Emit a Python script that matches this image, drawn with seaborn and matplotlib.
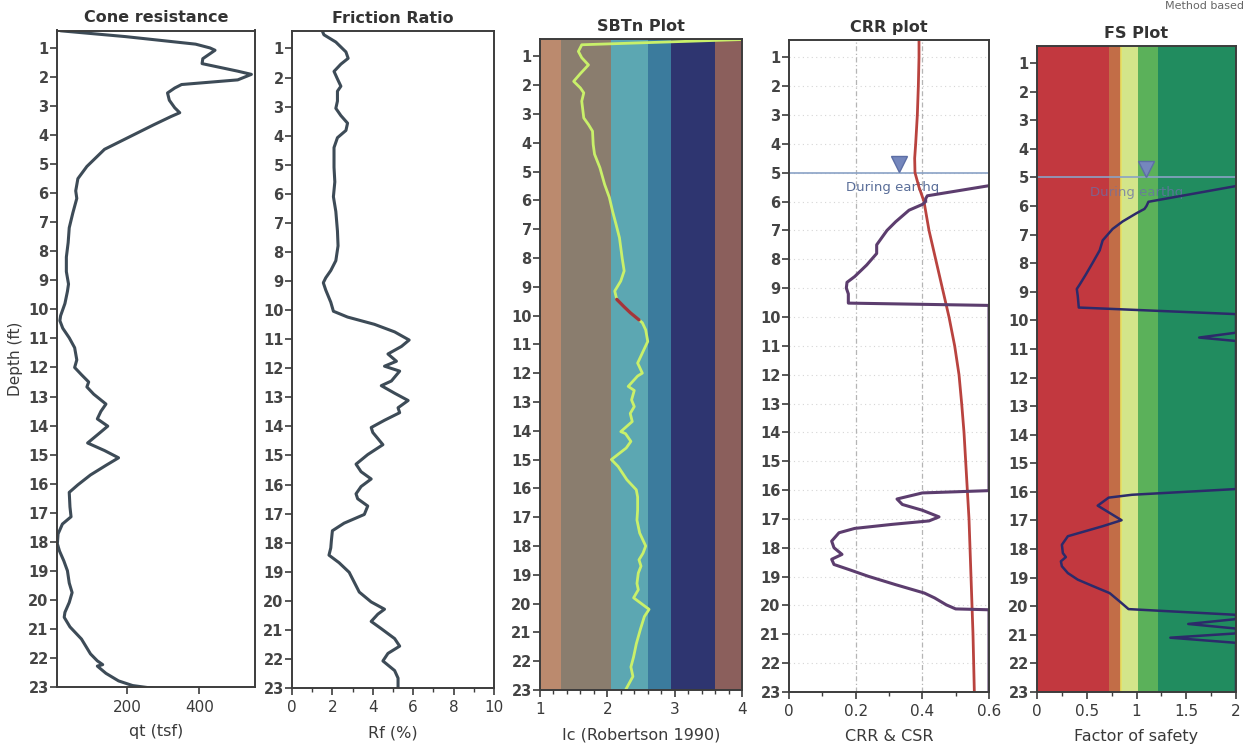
import numpy as np
import pandas as pd
import matplotlib
matplotlib.use("Agg")
import matplotlib.pyplot as plt
import seaborn as sns
from matplotlib.ticker import MultipleLocator, FixedLocator

sns.set_theme(style="white")
plt.rcParams['font.family'] = ['DejaVu Sans']

# ---------------- data ----------------
depth_ticks = list(range(1, 24))

qt_depth = [0.41, 0.61, 0.87, 1.0, 1.08, 1.37, 1.54, 1.8, 1.91, 2.1, 2.26, 2.38, 2.55, 2.8, 3.06,
            3.23, 3.36, 3.65, 4.07, 4.49, 5.08, 5.5, 5.92, 6.18, 6.68, 7.19, 7.7, 8.2, 8.7, 9.13,
            9.38, 9.8, 10.22, 10.39, 10.65, 10.98, 11.32, 11.74, 12.0, 12.25, 12.5, 12.67, 12.92,
            13.26, 13.51, 13.77, 14.02, 14.27, 14.6, 14.86, 15.11, 15.37, 15.7, 16.04, 16.3, 16.8,
            17.14, 17.39, 17.73, 18.07, 18.32, 18.66, 19.0, 19.42, 19.75, 20.09, 20.43, 20.6, 20.93,
            21.35, 21.86, 22.1, 22.23, 22.28, 22.53, 22.79, 22.95, 23.05]
qt_value = [15, 195, 390, 430, 444, 410, 408, 507, 545, 507, 351, 332, 312, 317, 332,
            346, 322, 273, 205, 137, 88, 63, 57, 60, 49, 39, 36, 31, 31, 37,
            34, 27, 15, 13, 21, 39, 54, 60, 54, 73, 93, 88, 107,
            141, 127, 117, 146, 122, 90, 137, 176, 141, 98, 63, 39, 41,
            44, 20, 8, 6, 12, 24, 34, 39, 47, 39, 27, 25, 41,
            73, 98, 117, 132, 117, 141, 176, 215, 275]

rf_depth = [0.4, 0.53, 0.78, 1.12, 1.34, 1.54, 1.79, 2.05, 2.3, 2.47, 2.81, 3.06, 3.31, 3.57, 3.82,
            4.07, 4.41, 5.09, 5.59, 6.1, 6.61, 7.28, 7.79, 8.3, 8.64, 8.89, 9.06, 9.31, 9.73, 10.04,
            10.24, 10.49, 10.75, 11.03, 11.25, 11.51, 11.76, 11.93, 12.1, 12.44, 12.6, 12.86, 13.11,
            13.36, 13.53, 13.79, 14.04, 14.21, 14.63, 14.97, 15.3, 15.56, 15.81, 16.07, 16.32, 16.49,
            16.74, 17.03, 17.33, 17.59, 17.93, 18.18, 18.43, 18.69, 19.02, 19.36, 19.7, 20.04, 20.29,
            20.46, 20.71, 20.96, 21.3, 21.56, 21.81, 22.07, 22.4, 22.66, 23.0]
rf_value = [1.5, 1.58, 2.17, 2.67, 2.78, 2.42, 2.08, 2.25, 2.42, 2.25, 2.25, 2.17, 2.42, 2.75, 2.67,
            2.25, 2.08, 2.08, 2.12, 2.05, 2.17, 2.25, 2.28, 2.17, 1.92, 1.67, 1.55, 1.67, 1.92, 2.05,
            2.75, 4.08, 5.08, 5.8, 5.42, 4.75, 5.17, 4.58, 5.33, 4.92, 4.42, 5.08, 5.75,
            5.25, 5.33, 4.58, 3.92, 4.0, 4.5, 3.75, 3.17, 3.42, 3.92, 3.42, 3.17, 3.25,
            3.75, 3.58, 2.58, 2.0, 1.95, 1.92, 1.83, 2.33, 2.83, 3.08, 3.33, 3.92, 4.58,
            4.25, 3.92, 4.42, 5.08, 5.33, 4.75, 4.5, 5.08, 5.25, 5.25]

sbt_bounds = [1.0, 1.31, 2.05, 2.6, 2.95, 3.6, 4.0]
sbt_colors = ['#bb8a6e', '#8a7d6e', '#5ca7b2', '#3b7b9d', '#2e3570', '#8b5f5c']

ic_depth = [0.42, 0.6, 0.83, 1.05, 1.3, 1.6, 1.87, 2.1, 2.27, 2.56, 3.14, 3.37, 3.6, 4.06, 4.4,
            4.87, 5.45, 5.9, 6.4, 6.84, 7.3, 8.0, 8.45, 8.8, 9.15, 9.44, 9.7, 9.9, 10.15,
            10.25, 10.5, 10.9, 11.3, 11.65, 12.0, 12.1, 12.46, 12.6, 12.93, 13.16, 13.4, 13.68,
            14.03, 14.1, 14.37, 14.6, 15.0, 15.24, 15.7, 16.05, 16.3, 16.75, 17.1, 17.55, 18.0,
            18.25, 18.48, 18.7, 18.94, 19.3, 19.52, 19.8, 20.2, 20.45, 20.9, 21.4, 21.85, 22.2,
            22.53, 23.0]
ic_value = [3.98, 1.62, 1.57, 1.62, 1.72, 1.6, 1.50, 1.6, 1.65, 1.62, 1.65, 1.72, 1.78, 1.79, 1.81,
            1.89, 1.96, 2.03, 2.08, 2.13, 2.18, 2.22, 2.25, 2.2, 2.11, 2.14, 2.25, 2.34, 2.47,
            2.52, 2.57, 2.60, 2.52, 2.45, 2.52, 2.45, 2.31, 2.40, 2.36, 2.40, 2.34, 2.37,
            2.20, 2.27, 2.35, 2.28, 2.06, 2.16, 2.29, 2.43, 2.45, 2.45, 2.44, 2.48, 2.57,
            2.53, 2.47, 2.50, 2.46, 2.44, 2.46, 2.39, 2.62, 2.55, 2.49, 2.43, 2.39, 2.35,
            2.38, 2.27]
ic_red_depth = [9.44, 9.7, 9.9, 10.15]
ic_red_value = [2.14, 2.25, 2.34, 2.47]

csr_depth = [0.4, 1, 2, 3, 4, 4.5, 5, 5.5, 6, 7, 8, 9, 10, 11, 12, 13, 14, 15, 16, 17, 18, 19,
             20, 21, 22, 23]
csr_value = [0.39, 0.39, 0.388, 0.385, 0.38, 0.377, 0.378, 0.39, 0.405, 0.42, 0.44, 0.46, 0.48,
             0.497, 0.51, 0.518, 0.525, 0.53, 0.535, 0.54, 0.543, 0.546, 0.549, 0.552, 0.554, 0.556]

crr_depth = [5.45, 5.8, 5.9, 6.0, 6.1, 6.3, 6.7, 7.0, 7.5, 7.8, 8.2, 8.6, 8.8, 9.0, 9.2, 9.52,
             9.6, 16.02, 16.1, 16.31, 16.5, 16.7, 16.93, 17.07, 17.19, 17.33, 17.48, 17.77, 18.0,
             18.23, 18.4, 18.58, 18.76, 18.99, 19.28, 19.57, 19.74, 19.98, 20.12, 20.15, 23.0]
crr_value = [0.6, 0.415, 0.41, 0.41, 0.40, 0.36, 0.32, 0.294, 0.263, 0.263, 0.233, 0.197, 0.174,
             0.172, 0.178, 0.178, 0.6, 0.6, 0.40, 0.324, 0.34, 0.40, 0.45, 0.42, 0.309, 0.197,
             0.15, 0.128, 0.135, 0.159, 0.128, 0.135, 0.181, 0.238, 0.32, 0.406, 0.437, 0.472,
             0.50, 0.6, 0.6]

fs_bounds = [0.0, 0.72, 0.84, 1.02, 1.22, 2.0]
fs_colors = ['#c2383f', '#c26d47', '#d3e58a', '#5bb15a', '#218c5f']

fs_depth = [5.3, 5.85, 6.0, 6.1, 6.25, 6.54, 6.8, 7.2, 7.55, 7.98, 8.4, 8.74, 8.9, 9.16, 9.55,
            9.78, 10.43, 10.6, 10.72, 15.9, 16.1, 16.2, 16.48, 16.99, 17.2, 17.38, 17.55, 17.85,
            18.14, 18.28, 18.43, 18.6, 18.84, 19.07, 19.3, 19.54, 19.83, 20.1, 20.3, 20.45,
            20.62, 20.78, 20.95, 21.1, 21.28, 23.0]
fs_value = [2.0, 1.12, 1.1, 1.08, 1.0, 0.86, 0.76, 0.66, 0.63, 0.56, 0.49, 0.43, 0.40, 0.41, 0.42,
            2.0, 2.0, 1.63, 2.0, 2.0, 0.955, 0.72, 0.61, 0.85, 0.66, 0.48, 0.31, 0.25,
            0.26, 0.29, 0.24, 0.25, 0.31, 0.41, 0.565, 0.73, 0.83, 0.92, 2.0, 2.0,
            1.52, 2.0, 2.0, 1.34, 2.0, 2.0]

water_depth = 5.0

# ---------------- layout ----------------
W, H = 1247, 756
fig = plt.figure(figsize=(W / 100, H / 100), dpi=100)
fig.patch.set_facecolor('white')


def add_ax(l, r, t, b):
    return fig.add_axes([l / W, 1 - b / H, (r - l) / W, (b - t) / H])


SPINE = '#3c3c3c'
TXT = '#3a3a3a'


def style(ax, title, xlabel, xlim, xmajor, xminor=None, xticklabels=None):
    ax.set_ylim(23, 0.4)
    ax.set_xlim(*xlim)
    ax.yaxis.set_major_locator(FixedLocator(depth_ticks))
    ax.set_yticklabels([str(d) for d in depth_ticks], fontsize=10.5, fontweight='bold', color='#444')
    ax.xaxis.set_major_locator(FixedLocator(xmajor))
    if xticklabels is None:
        xticklabels = [f"{v:g}" for v in xmajor]
    ax.set_xticklabels(xticklabels, fontsize=11, color=TXT)
    if xminor is not None:
        ax.xaxis.set_minor_locator(FixedLocator(xminor))
    ax.tick_params(axis='y', which='major', direction='out', length=5, width=1.2,
                   color=SPINE, pad=1, left=True)
    ax.tick_params(axis='x', which='major', direction='out', length=5, width=1.2,
                   color=SPINE, pad=4, bottom=True)
    ax.tick_params(axis='x', which='minor', direction='out', length=3, width=1.0,
                   color=SPINE, bottom=True)
    for s in ax.spines.values():
        s.set_color(SPINE)
        s.set_linewidth(1.4)
        s.set_visible(True)
    ax.set_title(title, fontsize=11.5, fontweight='bold', color='#333', pad=6)
    ax.set_xlabel(xlabel, fontsize=11.5, color=TXT, labelpad=7)
    ax.set_ylabel('')


# Panel 1: Cone resistance
ax1 = add_ax(57, 255, 30.5, 687)
sns.lineplot(x=qt_value, y=qt_depth, sort=False, estimator=None, ax=ax1,
             color='#3d4b57', linewidth=2.2)
style(ax1, 'Cone resistance', 'qt (tsf)', (5, 555), [200, 400])
ax1.set_ylabel('Depth (ft)', fontsize=11, color=TXT, labelpad=4)

# Panel 2: Friction ratio
ax2 = add_ax(292, 494, 31, 688)
sns.lineplot(x=rf_value, y=rf_depth, sort=False, estimator=None, ax=ax2,
             color='#3d4b57', linewidth=2.2)
style(ax2, 'Friction Ratio', 'Rf (%)', (0, 10), [0, 2, 4, 6, 8, 10],
      xminor=[1, 3, 5, 7, 9])

# Panel 3: SBTn
ax3 = add_ax(540, 742, 39, 690)
for lo, hi, c in zip(sbt_bounds[:-1], sbt_bounds[1:], sbt_colors):
    ax3.axvspan(lo, hi, color=c, lw=0, zorder=0)
sns.lineplot(x=ic_value, y=ic_depth, sort=False, estimator=None, ax=ax3,
             color='#c9f06a', linewidth=2.0)
sns.lineplot(x=ic_red_value, y=ic_red_depth, sort=False, estimator=None, ax=ax3,
             color='#a3343c', linewidth=2.4)
style(ax3, 'SBTn Plot', 'Ic (Robertson 1990)', (1, 4), [1, 2, 3, 4],
      xminor=[v for v in np.arange(1.2, 4.0, 0.2) if abs(v - round(v)) > 1e-6])

# Panel 4: CRR plot
ax4 = add_ax(789, 989, 40, 692)
for d in depth_ticks:
    ax4.axhline(d, color='#d6d6d6', lw=0.8, ls=(0, (1, 3)), zorder=0)
for v in [0.2, 0.4]:
    ax4.axvline(v, color='#b5b5b5', lw=0.9, ls=(0, (4, 2, 1, 2)), zorder=0)
sns.lineplot(x=csr_value, y=csr_depth, sort=False, estimator=None, ax=ax4,
             color='#b9433f', linewidth=2.0)
sns.lineplot(x=crr_value, y=crr_depth, sort=False, estimator=None, ax=ax4,
             color='#5c3d6e', linewidth=2.2)
ax4.axhline(water_depth, color='#8aa2c6', lw=1.2, zorder=1)
ax4.plot([0.33], [water_depth - 0.3], marker='v', markersize=12, color='#7587bd',
         markeredgecolor='#5c6ea5', zorder=3)
ax4.text(0.17, water_depth + 0.52, 'During earthq', fontsize=9.5, color='#5a6e99',
         va='center', ha='left', zorder=1)
style(ax4, 'CRR plot', 'CRR & CSR', (0, 0.6), [0, 0.2, 0.4, 0.6],
      xminor=[0.1, 0.3, 0.5])

# Panel 5: FS plot
ax5 = add_ax(1037, 1236, 46, 692)
for lo, hi, c in zip(fs_bounds[:-1], fs_bounds[1:], fs_colors):
    ax5.axvspan(lo, hi, color=c, lw=0, zorder=0)
ax5.axvline(fs_bounds[2], color='#e8e060', lw=1.2, zorder=0.5)
ax5.axhline(water_depth, color='#8aa2c6', lw=1.2, zorder=1)
ax5.plot([1.095], [water_depth - 0.3], marker='v', markersize=12, color='#7587bd',
         markeredgecolor='#5c6ea5', zorder=3)
ax5.text(0.53, water_depth + 0.52, 'During earthq', fontsize=9.5, color='#6a70a8',
         alpha=0.75, va='center', ha='left', zorder=1)
sns.lineplot(x=fs_value, y=fs_depth, sort=False, estimator=None, ax=ax5,
             color='#2c2a6a', linewidth=1.8)
style(ax5, 'FS Plot', 'Factor of safety', (0, 2), [0, 0.5, 1, 1.5, 2],
      xminor=[0.25, 0.75, 1.25, 1.75])

fig.text(1165 / W, 1.0 - 1 / H, 'Method based', fontsize=8, color='#666', ha='left', va='top')

fig.savefig('out.png', dpi=100, facecolor='white')
